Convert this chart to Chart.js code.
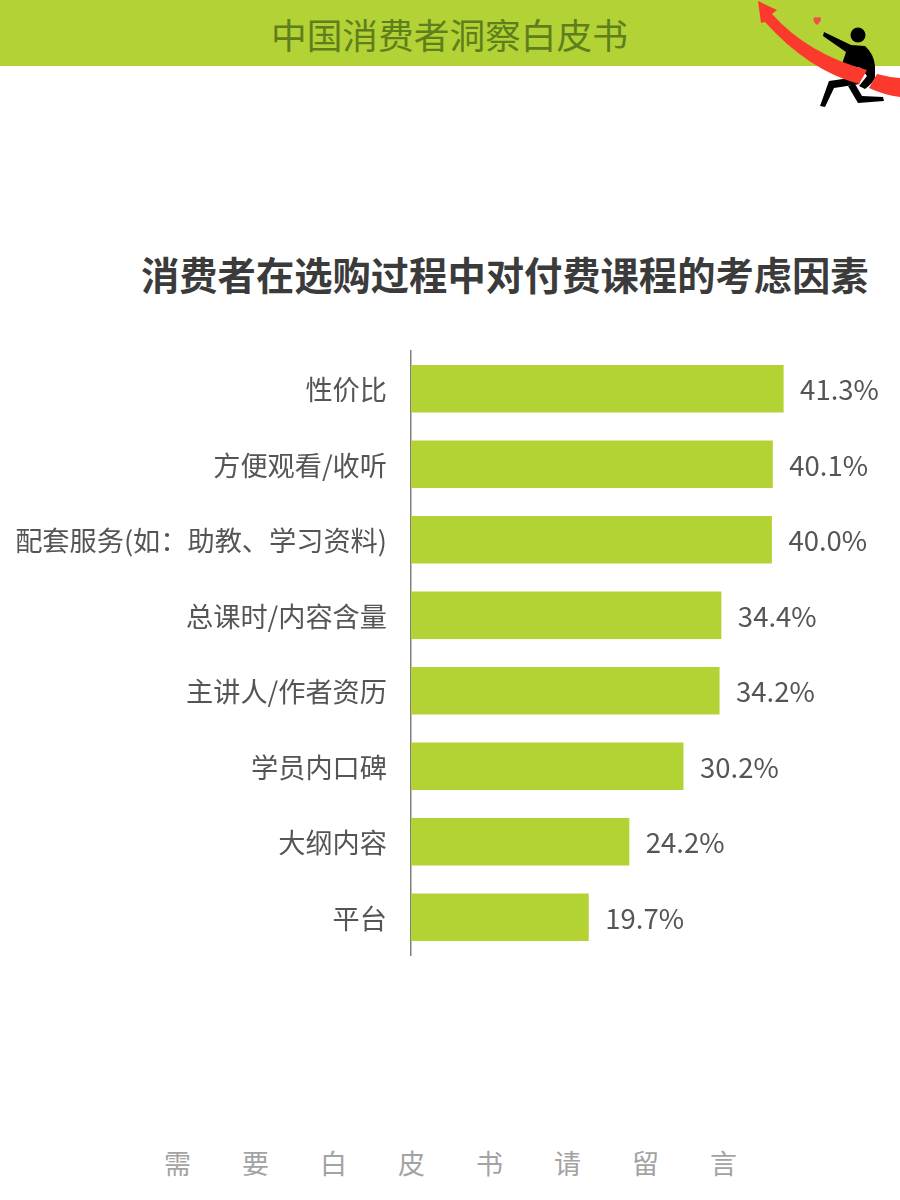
<!DOCTYPE html>
<html>
<head>
<meta charset="utf-8">
<title>消费者在选购过程中对付费课程的考虑因素</title>
<script src="https://cdn.jsdelivr.net/npm/chart.js@4"></script>
<style>
  html, body { margin: 0; padding: 0; background: #fff; }
  body { position: relative; width: 900px; height: 1200px; overflow: hidden; font-family: "Noto Sans CJK SC", sans-serif; }
  #banner { position: absolute; left: 0; top: 0; width: 900px; height: 66px; background: #b3d235; }
  #bannerText { position: absolute; left: 271px; top: 34px; transform: translateY(-50%); font-size: 35.7px; line-height: 1; color: #5f7f1c; white-space: nowrap; }
  #icon { position: absolute; left: 700px; top: 0; }
  #title { position: absolute; left: 141px; top: 274px; transform: translateY(-50%); font-size: 38.3px; line-height: 1; font-weight: 700; color: #3b3b3b; white-space: nowrap; }
  #footer span { position: absolute; top: 1162px; transform: translateY(-50%); font-size: 27px; line-height: 1; color: #a3a3a3; }
  #chartBox { position: absolute; left: 0; top: 340px; width: 900px; height: 630px; }
</style>
</head>
<body>
<div id="banner"><div id="bannerText">中国消费者洞察白皮书</div></div>
<svg id="icon" width="200" height="120" viewBox="0 0 200 120">
  <!-- figure -->
  <circle cx="158" cy="35" r="7.5" fill="#000"/>
  <path d="M124 32 L151 45 L165 46 Q174 54 175 66 L175 78 Q172 84 165 89 L159 86 L167 76 L161 68 L142 64 L146 52 L123 36 Z" fill="#000"/>
  <path d="M150 78 L129 81 L120 106 L125 107 L134 88 L160 84 Z" fill="#000"/>
  <path d="M148 86 L155 84 L162 96 L183 97 L184 101 L158 103 Z" fill="#000"/>
  <!-- ribbon arrow -->
  <path d="M72 14 Q108 54 167 70 L159 84 Q108 70 65 22 L61 23 L58 1 L77 10 Z" fill="#fb3a2d"/>
  <path d="M169 88 L177 74 Q188 77 200 78 L200 97 Q184 95 169 88 Z" fill="#fb3a2d"/>
  <!-- heart -->
  <path d="M117 25 C112 21 113 17 116 17 Q117 17 117 18 Q118 17 119 17 C122 17 122 21 117 25 Z" fill="#f0504a"/>
</svg>
<div id="title">消费者在选购过程中对付费课程的考虑因素</div>
<div id="chartBox"><canvas id="barChart"></canvas></div>
<div id="footer"></div>

<script>
const categories = ["性价比", "方便观看/收听", "配套服务(如：助教、学习资料)", "总课时/内容含量", "主讲人/作者资历", "学员内口碑", "大纲内容", "平台"];
const shareValues = [41.3, 40.1, 40.0, 34.4, 34.2, 30.2, 24.2, 19.7];
const footerChars = ["需", "要", "白", "皮", "书", "请", "留", "言"];

footerChars.forEach(function (ch, i) {
  const span = document.createElement("span");
  span.textContent = ch;
  span.style.left = 164 + i * 78 + "px";
  document.getElementById("footer").appendChild(span);
});

// Value labels at the end of each bar
const barValueLabels = {
  id: "barValueLabels",
  afterDatasetsDraw(chart) {
    const ctx = chart.ctx;
    const bars = chart.getDatasetMeta(0).data;
    ctx.save();
    ctx.font = '27.5px "Noto Sans CJK SC"';
    ctx.fillStyle = "#555555";
    ctx.textAlign = "left";
    ctx.textBaseline = "middle";
    bars.forEach(function (bar, i) {
      ctx.fillText(shareValues[i].toFixed(1) + "%", bar.x + 16.5, bar.y + 1);
    });
    ctx.restore();
  },
};

new Chart(document.getElementById("barChart").getContext("2d"), {
  type: "bar",
  data: {
    labels: categories,
    datasets: [
      {
        data: shareValues,
        backgroundColor: "#b3d335",
        categoryPercentage: 1,
        barPercentage: 0.63,
      },
    ],
  },
  options: {
    indexAxis: "y",
    responsive: true,
    maintainAspectRatio: false,
    animation: false,
    layout: { padding: { top: 11, bottom: 15, right: 83, left: 0 } },
    plugins: {
      legend: { display: false },
      tooltip: { enabled: false },
    },
    scales: {
      x: { display: false, min: 0, max: 45 },
      y: {
        afterFit(scale) {
          // fixed gutter for the labels, no extra room for first/last tick
          scale.width = 411;
          scale.paddingTop = 0;
          scale.paddingBottom = 0;
        },
        grid: { display: false },
        border: { display: true, color: "#808080", width: 1.5 },
        ticks: {
          color: "#555555",
          padding: 16,
          labelOffset: 1,
          autoSkip: false,
          font: { family: '"Noto Sans CJK SC"', size: 27.2 },
        },
      },
    },
  },
  plugins: [barValueLabels],
});
</script>
</body>
</html>
